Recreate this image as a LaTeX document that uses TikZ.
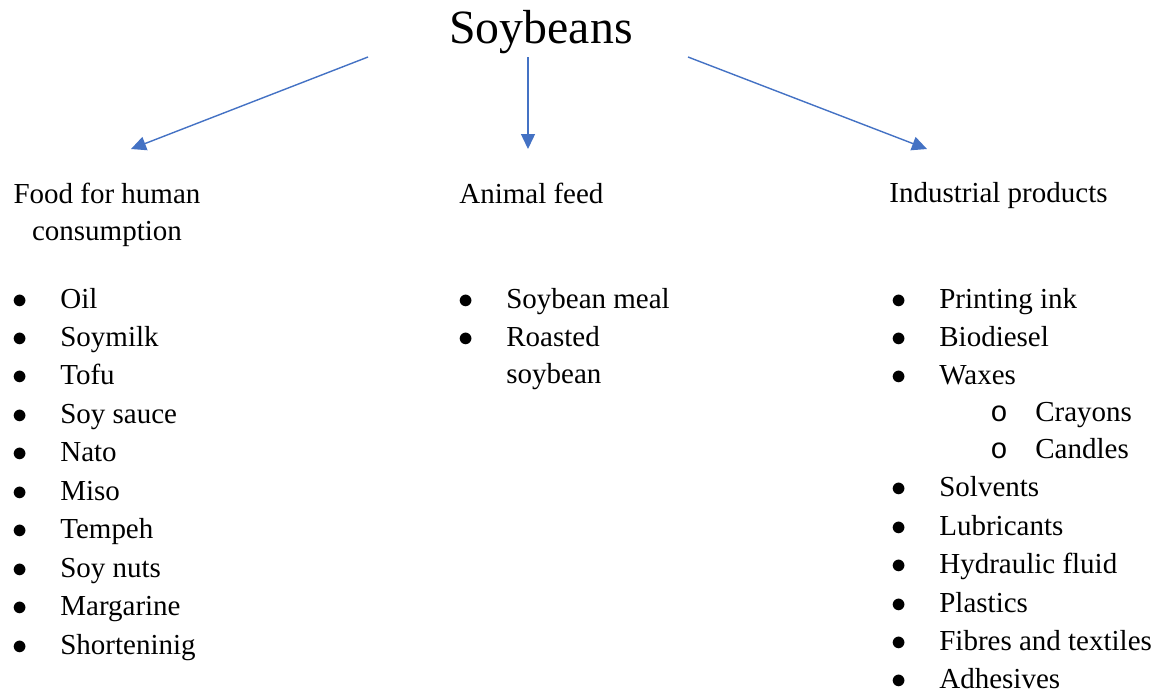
\documentclass[tikz,border=0pt]{standalone}
\usepackage{fontspec}
\setmainfont{Liberation Serif}
\newfontfamily\monof{Liberation Mono}
\usetikzlibrary{arrows.meta}
\definecolor{wordblue}{RGB}{68,114,196}

\begin{document}
\begin{tikzpicture}[
    txt/.style={inner sep=0pt,font=\fontsize{16.5}{21.9}\selectfont},
    arr/.style={draw=wordblue,line width=0.8pt,-{Triangle[length=0.3cm,width=0.28cm]}}]
  \useasboundingbox (0,0) rectangle (23.2,-13.82);

  \node[inner sep=0pt,anchor=base,font=\fontsize{27.2}{30}\selectfont] (title) at (10.82,-0.86) {Soybeans};

  % headings
  \node[txt,anchor=base] (food) at (2.14,-4.06) {\begin{tabular}[t]{@{}c@{}}
    Food for human\\[-0.8pt]
    consumption\end{tabular}};
  \node[txt,anchor=base west] (animal) at (9.18,-4.06) {Animal feed};
  \node[txt,anchor=base west] (industry) at (17.78,-4.04) {Industrial products};

  % lists
  \node[txt,anchor=base west] (foodlist) at (0.24,-6.16) {\begin{tabular}[t]{@{}p{0.96cm}@{}l@{}}
    $\bullet$ & Oil\\
    $\bullet$ & Soymilk\\
    $\bullet$ & Tofu\\
    $\bullet$ & Soy sauce\\
    $\bullet$ & Nato\\
    $\bullet$ & Miso\\
    $\bullet$ & Tempeh\\
    $\bullet$ & Soy nuts\\
    $\bullet$ & Margarine\\
    $\bullet$ & Shorteninig
  \end{tabular}};
  \node[txt,anchor=base west] (animallist) at (9.16,-6.16) {\begin{tabular}[t]{@{}p{0.96cm}@{}l@{}}
    $\bullet$ & Soybean meal\\
    $\bullet$ & Roasted\\[-1pt]
              & soybean
  \end{tabular}};
  \node[txt,anchor=base west] (industrylist) at (17.82,-6.16) {\begin{tabular}[t]{@{}p{0.96cm}@{}l@{}}
    $\bullet$ & Printing ink\\
    $\bullet$ & Biodiesel\\
    $\bullet$ & Waxes\\[-1pt]
              & \hspace{1.02cm}\makebox[0.9cm][l]{\monof o}Crayons\\[-1pt]
              & \hspace{1.02cm}\makebox[0.9cm][l]{\monof o}Candles\\
    $\bullet$ & Solvents\\
    $\bullet$ & Lubricants\\
    $\bullet$ & Hydraulic fluid\\
    $\bullet$ & Plastics\\
    $\bullet$ & Fibres and textiles\\[-0.6pt]
    $\bullet$ & Adhesives
  \end{tabular}};

  % arrow ends
  \coordinate (s1) at (7.36,-1.14);
  \coordinate (s2) at (10.56,-1.14);
  \coordinate (s3) at (13.76,-1.14);
  \coordinate (t1) at (2.62,-2.98);
  \coordinate (t2) at (10.56,-2.98);
  \coordinate (t3) at (18.54,-2.98);

  \draw[arr] (s1) -- (t1);
  \draw[arr] (s2) -- (t2);
  \draw[arr] (s3) -- (t3);
\end{tikzpicture}
\end{document}
